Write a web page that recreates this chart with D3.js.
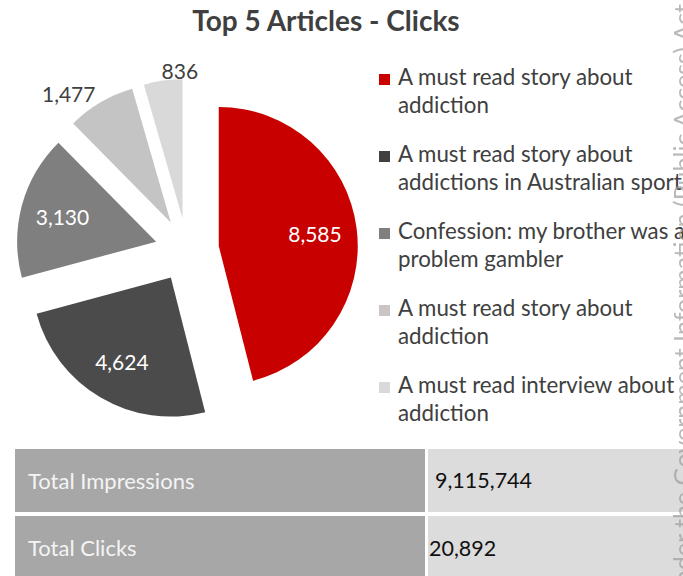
<!DOCTYPE html>
<html>
<head>
<meta charset="utf-8">
<script src="https://cdn.jsdelivr.net/npm/d3@7/dist/d3.min.js"></script>
<style>
  html, body { margin: 0; padding: 0; background: #ffffff; }
  svg { display: block; font-family: Lato, "Open Sans", sans-serif; }
</style>
</head>
<body>
<svg id="chart" width="683" height="576"></svg>
<script>
// Click counts for the five most-clicked articles
const articleClicks = [8585, 4624, 3130, 1477, 836];
const articleLegendLines = [
  ["A must read story about", "addiction"],
  ["A must read story about", "addictions in Australian sport"],
  ["Confession: my brother was a", "problem gambler"],
  ["A must read story about", "addiction"],
  ["A must read interview about", "addiction"]
];
const sliceColors = ["#c80000", "#4b4b4b", "#7f7f7f", "#c4c4c4", "#d9d9d9"];
const legendColors = ["#c80000", "#404040", "#7f7f7f", "#cbc4c4", "#d9d9d9"];

// Summary table
const summaryLabels = ["Total Impressions", "Total Clicks"];
const summaryValues = [9115744, 20892];

const titleText = "Top 5 Articles - Clicks";
const sideNote = "Released under the Government Information (Public Access) Act";

const svg = d3.select("#chart");
const fmt = d3.format(",");

const defs = svg.append("defs");
defs.append("filter").attr("id", "soft")
  .append("feGaussianBlur").attr("stdDeviation", 0.6);

// Title
svg.append("text")
  .attr("x", 326).attr("y", 31)
  .attr("text-anchor", "middle")
  .attr("font-size", 28).attr("font-weight", "bold")
  .attr("fill", "#3f3f3f")
  .text(titleText);

// Exploded pie
const cx = 187, cy = 250, radius = 139, explode = 32;
const pie = d3.pie().sort(null).value(d => d).startAngle(0).endAngle(2 * Math.PI);
const arcs = pie(articleClicks);
const total = d3.sum(articleClicks);
const arc = d3.arc().innerRadius(0).outerRadius(radius);
const labelArc = d3.arc().innerRadius(97).outerRadius(97);

const pieG = svg.append("g").attr("transform", `translate(${cx},${cy})`);
const slice = pieG.selectAll("g.slice")
  .data(arcs)
  .join("g")
  .attr("class", "slice")
  .attr("transform", d => {
    const mid = (d.startAngle + d.endAngle) / 2;
    return `translate(${explode * Math.sin(mid)},${-explode * Math.cos(mid)})`;
  });

slice.append("path")
  .attr("d", arc)
  .attr("fill", (d, i) => sliceColors[i]);

// Value labels: inside for large slices, outside for small ones
slice.append("text")
  .attr("font-size", 21)
  .attr("dominant-baseline", "central")
  .each(function (d) {
    const mid = (d.startAngle + d.endAngle) / 2;
    const big = d.value / total > 0.1;
    const t = d3.select(this);
    if (big) {
      const [x, y] = labelArc.centroid(d);
      t.attr("x", x).attr("y", y).attr("text-anchor", "middle").attr("fill", "#ffffff");
    } else {
      const rr = radius + 10;
      t.attr("x", rr * Math.sin(mid)).attr("y", -rr * Math.cos(mid))
        .attr("text-anchor", Math.sin(mid) < -0.3 ? "end" : "start")
        .attr("fill", "#404040");
    }
  })
  .text(d => fmt(d.value));

// Legend
const legend = svg.append("g");
const legendItem = legend.selectAll("g.item")
  .data(articleLegendLines)
  .join("g")
  .attr("class", "item")
  .attr("transform", (d, i) => `translate(0,${85 + i * 77})`);

legendItem.append("rect")
  .attr("x", 379).attr("y", -11)
  .attr("width", 11).attr("height", 11)
  .attr("fill", (d, i) => legendColors[i]);

legendItem.append("text")
  .attr("font-size", 22.3)
  .attr("fill", "#404040")
  .selectAll("tspan")
  .data(d => d)
  .join("tspan")
  .attr("x", 398)
  .attr("y", (d, j) => j * 28)
  .text(d => d);

// Summary table
const rowY = d3.scaleBand().domain(summaryLabels).range([449, 579]).paddingInner(0.06);
const rows = svg.selectAll("g.row")
  .data(summaryLabels)
  .join("g")
  .attr("class", "row");

rows.append("rect")
  .attr("x", 15).attr("y", d => rowY(d))
  .attr("width", 410).attr("height", rowY.bandwidth())
  .attr("fill", "#a7a7a7");
rows.append("rect")
  .attr("x", 428).attr("y", d => rowY(d))
  .attr("width", 260).attr("height", rowY.bandwidth())
  .attr("fill", "#dcdcdc");
rows.append("text")
  .attr("x", 28).attr("y", d => rowY(d) + rowY.bandwidth() / 2)
  .attr("dominant-baseline", "central")
  .attr("font-size", 22)
  .attr("fill", "#f4f4f4")
  .text(d => d);
rows.append("text")
  .attr("x", (d, i) => i === 0 ? 435 : 429)
  .attr("y", d => rowY(d) + rowY.bandwidth() / 2)
  .attr("dominant-baseline", "central")
  .attr("font-size", 21.5)
  .attr("fill", "#111111")
  .text((d, i) => fmt(summaryValues[i]));

// Vertical side note along the right edge
svg.append("text")
  .attr("transform", "translate(692,4) rotate(-90)")
  .attr("text-anchor", "end")
  .attr("font-size", 25)
  .attr("fill", "#9c9c9c")
  .attr("opacity", 0.7)
  .attr("filter", "url(#soft)")
  .text(sideNote);
</script>
</body>
</html>
